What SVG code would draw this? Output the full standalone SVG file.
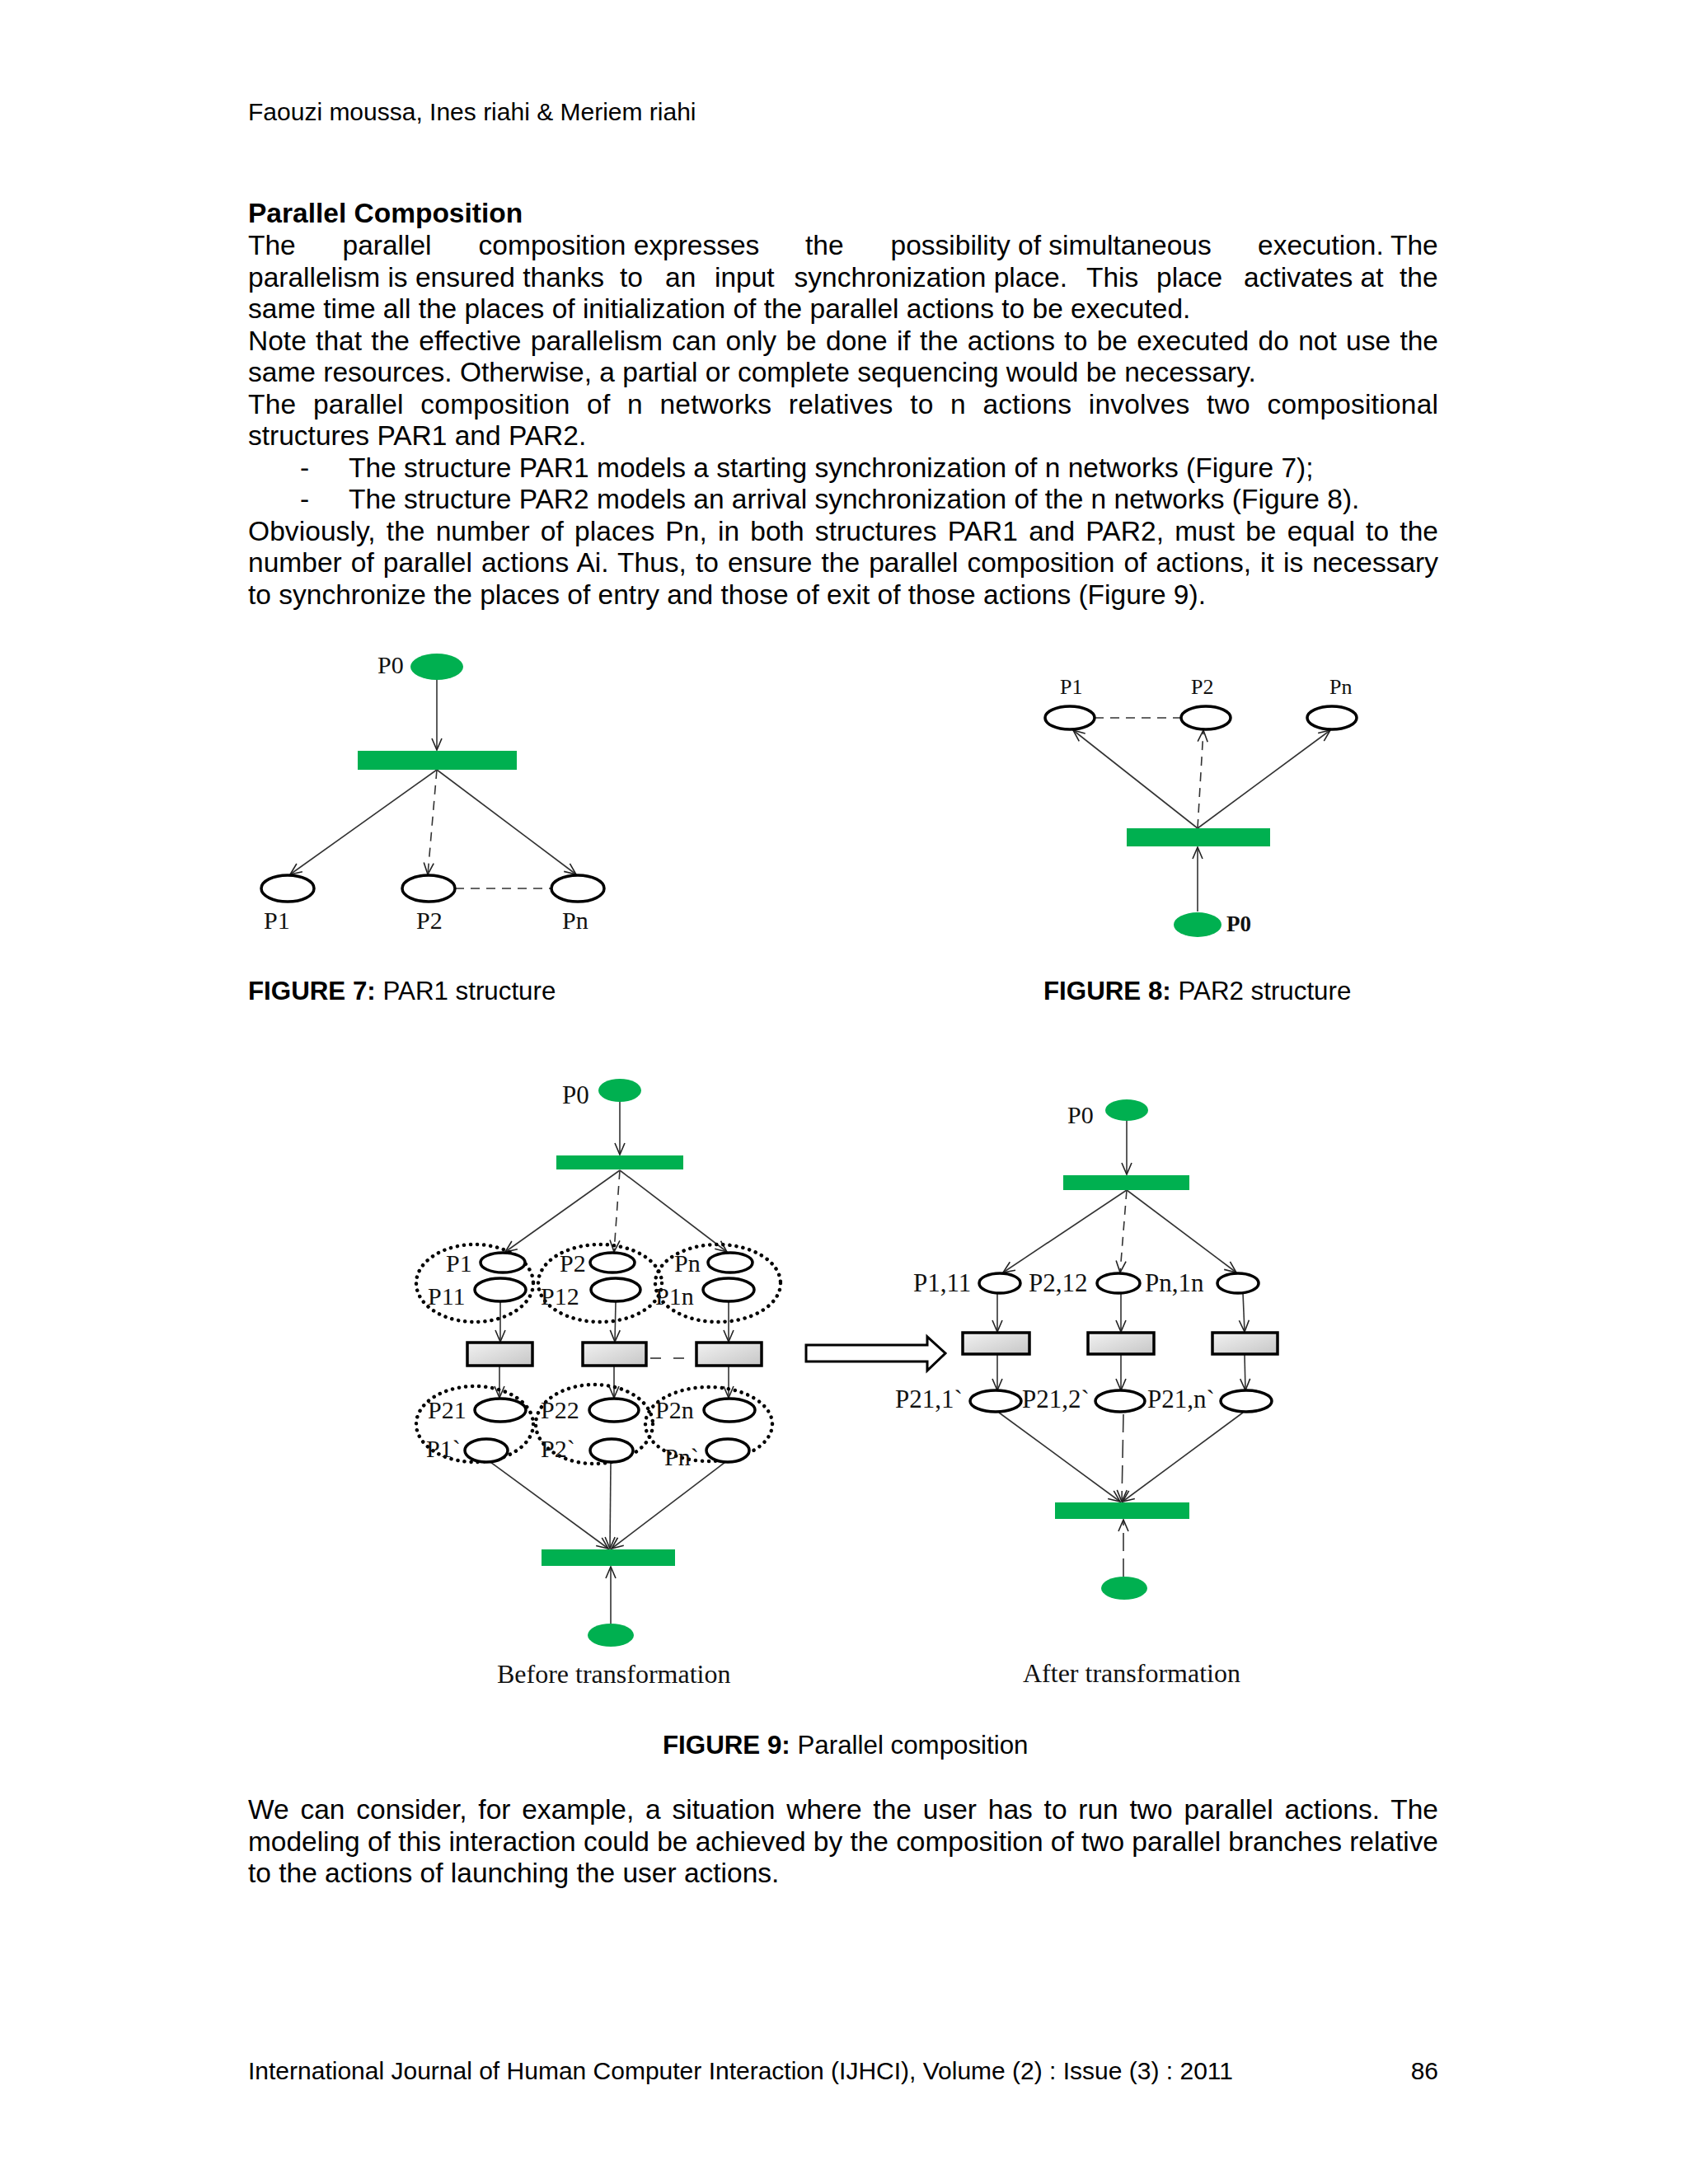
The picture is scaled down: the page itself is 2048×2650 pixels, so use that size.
<svg xmlns="http://www.w3.org/2000/svg" width="2048" height="2650" viewBox="0 0 2048 2650">
<defs>
<style>
.t{font-family:"Liberation Sans",Arial,sans-serif;font-size:33.5px;fill:#000}
.h{font-size:30px}
.b{font-weight:bold}
.cap{font-family:"Liberation Sans",Arial,sans-serif;font-size:31.3px;fill:#000}
.lb{font-family:"Liberation Serif","Times New Roman",serif;fill:#111}
.pl{fill:#fff;stroke:#000;stroke-width:3.5}
.tok{fill:#00b050}
.tr{fill:url(#g);stroke:#000;stroke-width:3.5}
.grp{fill:none;stroke:#000;stroke-width:4.5;stroke-dasharray:0.1 8;stroke-linecap:round}
.arc{stroke:#333;stroke-width:1.6;fill:none}
.ar{marker-end:url(#ah)}
.da{stroke-dasharray:11 8}
.dl{stroke-dasharray:22 9}
</style>
<marker id="ah" viewBox="0 0 16 14" markerWidth="16" markerHeight="14" refX="15" refY="7" orient="auto" markerUnits="userSpaceOnUse">
<path d="M1,1 L15,7 L1,13" fill="none" stroke="#222" stroke-width="1.6"/>
</marker>
<linearGradient id="g" x1="0" y1="0" x2="1" y2="1">
<stop offset="0" stop-color="#f2f2f2"/>
<stop offset="0.5" stop-color="#dcdcdc"/>
<stop offset="1" stop-color="#c6c6c6"/>
</linearGradient>
</defs>
<rect width="2048" height="2650" fill="#fff"/>

<g id="page-text">
<text class="t h" x="301" y="146">Faouzi moussa, Ines riahi &amp; Meriem riahi</text>
<text class="t b" x="301" y="270">Parallel Composition</text>
<text class="t" y="309"><tspan x="301">The</tspan> <tspan x="415.5">parallel</tspan> <tspan x="580.6">composition expresses</tspan> <tspan x="977">the</tspan> <tspan x="1080.6">possibility of simultaneous</tspan> <tspan x="1526">execution.</tspan> <tspan x="1687">The</tspan></text>
<text class="t" y="347.5"><tspan x="301">parallelism is ensured thanks</tspan> <tspan x="752">to</tspan> <tspan x="807">an</tspan> <tspan x="867">input</tspan> <tspan x="963.6">synchronization place.</tspan> <tspan x="1318">This</tspan> <tspan x="1403">place</tspan> <tspan x="1509">activates at</tspan> <tspan x="1698">the</tspan></text>
<text class="t" x="301" y="386">same time all the places of initialization of the parallel actions to be executed.</text>
<text class="t" x="301" y="424.5" word-spacing="2" textLength="1444" lengthAdjust="spacing">Note that the effective parallelism can only be done if the actions to be executed do not use the</text>
<text class="t" x="301" y="463">same resources. Otherwise, a partial or complete sequencing would be necessary.</text>
<text class="t" x="301" y="501.5" word-spacing="11" textLength="1444" lengthAdjust="spacing">The parallel composition of n networks relatives to n actions involves two compositional</text>
<text class="t" x="301" y="540">structures PAR1 and PAR2.</text>
<text class="t" y="578.5"><tspan x="364">-</tspan> <tspan x="423">The structure PAR1 models a starting synchronization of n networks (Figure 7);</tspan></text>
<text class="t" y="617"><tspan x="364">-</tspan> <tspan x="423">The structure PAR2 models an arrival synchronization of the n networks (Figure 8).</tspan></text>
<text class="t" x="301" y="655.5" word-spacing="3.7" textLength="1444" lengthAdjust="spacing">Obviously, the number of places Pn, in both structures PAR1 and PAR2, must be equal to the</text>
<text class="t" x="301" y="694" word-spacing="1.7" textLength="1444" lengthAdjust="spacing">number of parallel actions Ai. Thus, to ensure the parallel composition of actions, it is necessary</text>
<text class="t" x="301" y="732.5">to synchronize the places of entry and those of exit of those actions (Figure 9).</text>

<text class="cap" x="301" y="1213"><tspan class="b">FIGURE 7:</tspan> PAR1 structure</text>
<text class="cap" x="1266" y="1213"><tspan class="b">FIGURE 8:</tspan> PAR2 structure</text>
<text class="cap" x="804" y="2128"><tspan class="b">FIGURE 9:</tspan> Parallel composition</text>

<text class="t" x="301" y="2207" word-spacing="4.4" textLength="1444" lengthAdjust="spacing">We can consider, for example, a situation where the user has to run two parallel actions. The</text>
<text class="t" x="301" y="2245.5" textLength="1444" lengthAdjust="spacing">modeling of this interaction could be achieved by the composition of two parallel branches relative</text>
<text class="t" x="301" y="2284">to the actions of launching the user actions.</text>

<text class="t h" x="301" y="2523">International Journal of Human Computer Interaction (IJHCI), Volume (2) : Issue (3) : 2011</text>
<text class="t h" x="1745" y="2523" text-anchor="end">86</text>
</g>

<g id="connectors">
<!-- Figure 7 -->
<line class="arc ar" x1="530" y1="825" x2="530" y2="910"/>
<line class="arc ar" x1="530" y1="934" x2="352" y2="1061"/>
<line class="arc ar da" x1="530" y1="934" x2="519" y2="1061"/>
<line class="arc ar" x1="530" y1="934" x2="699" y2="1061"/>
<line class="arc da" x1="552" y1="1078" x2="669" y2="1078" stroke-width="2"/>
<!-- Figure 8 -->
<line class="arc ar" x1="1453" y1="1005" x2="1302" y2="886"/>
<line class="arc ar da" x1="1453" y1="1005" x2="1460" y2="886"/>
<line class="arc ar" x1="1453" y1="1005" x2="1614" y2="886"/>
<line class="arc ar" x1="1453" y1="1106" x2="1453" y2="1028"/>
<line class="arc da" x1="1328" y1="871" x2="1433" y2="871" stroke-width="2"/>
<!-- Figure 9 before -->
<line class="arc ar" x1="752" y1="1337" x2="752" y2="1401"/>
<line class="arc ar" x1="752" y1="1420" x2="613" y2="1519"/>
<line class="arc ar da" x1="752" y1="1420" x2="745" y2="1519"/>
<line class="arc ar" x1="752" y1="1420" x2="882" y2="1519"/>
<line class="arc ar" x1="607" y1="1579" x2="607" y2="1628"/>
<line class="arc ar" x1="747" y1="1579" x2="746" y2="1628"/>
<line class="arc ar" x1="884" y1="1579" x2="884" y2="1628"/>
<line class="arc ar" x1="606" y1="1657" x2="606" y2="1696"/>
<line class="arc ar" x1="745" y1="1657" x2="745" y2="1696"/>
<line class="arc ar" x1="884" y1="1657" x2="884" y2="1696"/>
<line class="arc" x1="789" y1="1648" x2="802" y2="1648" stroke-width="2.5"/>
<line class="arc" x1="817" y1="1648" x2="830" y2="1648" stroke-width="2.5"/>
<line class="arc ar" x1="595" y1="1774" x2="738" y2="1879"/>
<line class="arc ar" x1="741" y1="1774" x2="740" y2="1879"/>
<line class="arc ar" x1="880" y1="1774" x2="742" y2="1879"/>
<line class="arc ar" x1="741" y1="1970" x2="741" y2="1901"/>
<!-- Figure 9 after -->
<line class="arc ar" x1="1367" y1="1360" x2="1367" y2="1425"/>
<line class="arc ar" x1="1367" y1="1444" x2="1217" y2="1544"/>
<line class="arc ar da" x1="1367" y1="1444" x2="1359" y2="1544"/>
<line class="arc ar" x1="1367" y1="1444" x2="1500" y2="1544"/>
<line class="arc ar" x1="1210" y1="1569" x2="1210" y2="1616"/>
<line class="arc ar" x1="1360" y1="1569" x2="1360" y2="1616"/>
<line class="arc ar" x1="1508" y1="1569" x2="1510" y2="1616"/>
<line class="arc ar" x1="1210" y1="1643" x2="1210" y2="1687"/>
<line class="arc ar" x1="1360" y1="1643" x2="1360" y2="1687"/>
<line class="arc ar" x1="1510" y1="1643" x2="1511" y2="1687"/>
<line class="arc ar" x1="1212" y1="1714" x2="1359" y2="1822"/>
<line class="arc ar dl" x1="1363" y1="1716" x2="1361" y2="1822"/>
<line class="arc ar" x1="1508" y1="1714" x2="1362" y2="1822"/>
<line class="arc ar dl" x1="1363" y1="1913" x2="1363" y2="1844"/>
</g>

<g id="figure7">
<g id="f7-p0"><ellipse class="tok" cx="530" cy="809" rx="32" ry="16"/><text class="lb" x="458" y="817" font-size="30">P0</text></g>
<g id="f7-t"><rect x="434" y="911" width="193" height="23" fill="#00b050"/></g>
<g id="f7-p1"><ellipse class="pl" cx="349" cy="1078" rx="32" ry="16"/><text class="lb" x="320" y="1127" font-size="30">P1</text></g>
<g id="f7-p2"><ellipse class="pl" cx="520" cy="1078" rx="32" ry="16"/><text class="lb" x="505" y="1127" font-size="30">P2</text></g>
<g id="f7-pn"><ellipse class="pl" cx="701" cy="1078" rx="32" ry="16"/><text class="lb" x="682" y="1127" font-size="30">Pn</text></g>
</g>

<g id="figure8">
<g id="f8-p1"><ellipse class="pl" cx="1298" cy="871" rx="30" ry="14"/><text class="lb" x="1286" y="842" font-size="26">P1</text></g>
<g id="f8-p2"><ellipse class="pl" cx="1463" cy="871" rx="30" ry="14"/><text class="lb" x="1445" y="842" font-size="26">P2</text></g>
<g id="f8-pn"><ellipse class="pl" cx="1616" cy="871" rx="30" ry="14"/><text class="lb" x="1613" y="842" font-size="26">Pn</text></g>
<g id="f8-t"><rect x="1367" y="1005" width="174" height="22" fill="#00b050"/></g>
<g id="f8-p0"><ellipse class="tok" cx="1453" cy="1122" rx="29" ry="15"/><text class="lb" x="1488" y="1130" font-size="27" font-weight="bold">P0</text></g>
</g>

<g id="figure9-before">
<g id="f9a-p0"><ellipse class="tok" cx="752" cy="1323" rx="26" ry="14"/><text class="lb" x="682" y="1339" font-size="31">P0</text></g>
<g id="f9a-t0"><rect x="675" y="1402" width="154" height="17" fill="#00b050"/></g>
<g id="f9a-g1"><ellipse class="grp" cx="576" cy="1557" rx="71" ry="47"/></g>
<g id="f9a-g2"><ellipse class="grp" cx="728" cy="1557" rx="75" ry="47"/></g>
<g id="f9a-g3"><ellipse class="grp" cx="871" cy="1557" rx="76" ry="47"/></g>
<g id="f9a-p1"><ellipse class="pl" cx="610" cy="1532" rx="27" ry="12"/><text class="lb" x="541" y="1543" font-size="30">P1</text></g>
<g id="f9a-p11"><ellipse class="pl" cx="607" cy="1565" rx="31" ry="14"/><text class="lb" x="519" y="1583" font-size="30">P11</text></g>
<g id="f9a-p2"><ellipse class="pl" cx="743" cy="1532" rx="27" ry="12"/><text class="lb" x="679" y="1543" font-size="30">P2</text></g>
<g id="f9a-p12"><ellipse class="pl" cx="747" cy="1565" rx="30" ry="14"/><text class="lb" x="656" y="1583" font-size="30">P12</text></g>
<g id="f9a-pn"><ellipse class="pl" cx="886" cy="1532" rx="27" ry="12"/><text class="lb" x="818" y="1543" font-size="30">Pn</text></g>
<g id="f9a-p1n"><ellipse class="pl" cx="884" cy="1565" rx="31" ry="14"/><text class="lb" x="795" y="1583" font-size="30">P1n</text></g>
<g id="f9a-a1"><rect class="tr" x="567" y="1629" width="79" height="28"/></g>
<g id="f9a-a2"><rect class="tr" x="707" y="1629" width="77" height="28"/></g>
<g id="f9a-an"><rect class="tr" x="845" y="1629" width="79" height="28"/></g>
<g id="f9a-g4"><ellipse class="grp" cx="576" cy="1728" rx="71" ry="46"/></g>
<g id="f9a-g5"><ellipse class="grp" cx="721" cy="1728" rx="71" ry="48"/></g>
<g id="f9a-g6"><ellipse class="grp" cx="860" cy="1728" rx="77" ry="45"/></g>
<g id="f9a-p21"><ellipse class="pl" cx="607" cy="1711" rx="31" ry="14"/><text class="lb" x="519" y="1721" font-size="30">P21</text></g>
<g id="f9a-p1b"><ellipse class="pl" cx="590" cy="1760" rx="26" ry="14"/><text class="lb" x="517" y="1768" font-size="30">P1`</text></g>
<g id="f9a-p22"><ellipse class="pl" cx="745" cy="1711" rx="30" ry="14"/><text class="lb" x="656" y="1721" font-size="30">P22</text></g>
<g id="f9a-p2b"><ellipse class="pl" cx="742" cy="1760" rx="26" ry="14"/><text class="lb" x="656" y="1768" font-size="30">P2`</text></g>
<g id="f9a-p2n"><ellipse class="pl" cx="885" cy="1711" rx="31" ry="14"/><text class="lb" x="795" y="1721" font-size="30">P2n</text></g>
<g id="f9a-pnb"><ellipse class="pl" cx="883" cy="1760" rx="26" ry="14"/><text class="lb" x="806" y="1778" font-size="30">Pn`</text></g>
<g id="f9a-t1"><rect x="657" y="1880" width="162" height="20" fill="#00b050"/></g>
<g id="f9a-pf"><ellipse class="tok" cx="741" cy="1984" rx="28" ry="14"/></g>
<text class="lb" x="603" y="2042" font-size="32">Before transformation</text>
</g>

<g id="transform-arrow">
<polygon points="978,1632 1125,1632 1125,1622 1147,1642 1125,1663 1125,1652 978,1652" fill="#fff" stroke="#000" stroke-width="3"/>
</g>

<g id="figure9-after">
<g id="f9b-p0"><ellipse class="tok" cx="1367" cy="1347" rx="26" ry="13"/><text class="lb" x="1295" y="1363" font-size="30">P0</text></g>
<g id="f9b-t0"><rect x="1290" y="1426" width="153" height="18" fill="#00b050"/></g>
<g id="f9b-p111"><ellipse class="pl" cx="1213" cy="1557" rx="25" ry="12"/><text class="lb" x="1108" y="1567" font-size="31">P1,11</text></g>
<g id="f9b-p212"><ellipse class="pl" cx="1357" cy="1557" rx="26" ry="12"/><text class="lb" x="1248" y="1567" font-size="31">P2,12</text></g>
<g id="f9b-pn1n"><ellipse class="pl" cx="1502" cy="1557" rx="25" ry="12"/><text class="lb" x="1389" y="1567" font-size="31">Pn,1n</text></g>
<g id="f9b-a1"><rect class="tr" x="1168" y="1617" width="81" height="26"/></g>
<g id="f9b-a2"><rect class="tr" x="1320" y="1617" width="80" height="26"/></g>
<g id="f9b-an"><rect class="tr" x="1471" y="1617" width="79" height="26"/></g>
<g id="f9b-p211"><ellipse class="pl" cx="1208" cy="1700" rx="31" ry="13"/><text class="lb" x="1086" y="1708" font-size="31">P21,1`</text></g>
<g id="f9b-p212b"><ellipse class="pl" cx="1359" cy="1700" rx="30" ry="13"/><text class="lb" x="1240" y="1708" font-size="31">P21,2`</text></g>
<g id="f9b-p21n"><ellipse class="pl" cx="1512" cy="1700" rx="31" ry="13"/><text class="lb" x="1392" y="1708" font-size="31">P21,n`</text></g>
<g id="f9b-t1"><rect x="1280" y="1823" width="163" height="20" fill="#00b050"/></g>
<g id="f9b-pf"><ellipse class="tok" cx="1364" cy="1927" rx="28" ry="14"/></g>
<text class="lb" x="1241" y="2041" font-size="32">After transformation</text>
</g>
</svg>
